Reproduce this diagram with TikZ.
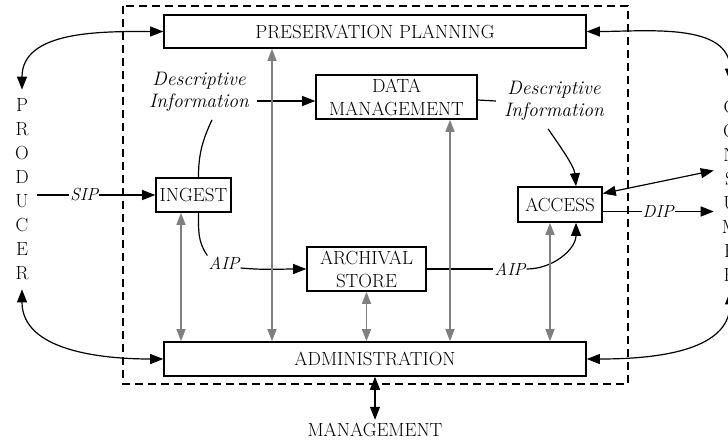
\documentclass[tikz,border=0pt]{standalone}
\usetikzlibrary{arrows.meta,positioning}

\tikzset{
    box/.style={draw, line width=1.6pt, inner sep=0pt, align=center},
    lbl/.style={fill=white, inner sep=1pt, font=\fontsize{17.5}{21}\selectfont\itshape},
    desc/.style={align=center, inner sep=8pt, font=\fontsize{19.5}{22}\selectfont\itshape},
    letters/.style={align=center, inner xsep=8pt, inner ysep=9pt, font=\fontsize{19}{24}\selectfont},
    line/.style={line width=1.2pt},
    arr/.style={line, -{Triangle[length=13pt,width=10pt]}},
    dbl/.style={line, {Triangle[length=13pt,width=10pt]}-{Triangle[length=13pt,width=10pt]}},
    gdbl/.style={line width=1.4pt, black!50, {Triangle[length=12pt,width=9pt]}-{Triangle[length=12pt,width=9pt]}}
}

\begin{document}
\begin{tikzpicture}[x=1pt, y=-1pt, font=\fontsize{19}{23}\selectfont]
    \useasboundingbox (0,0) rectangle (728,447);
    \draw[line width=1.4pt, dash pattern=on 8pt off 5pt] (123,6) rectangle (628,384);
    \node[box, minimum width=422pt, minimum height=33pt] (pp) at (375,31.5) {PRESERVATION PLANNING};
    \node[box, minimum width=422pt, minimum height=34pt] (admin) at (375,359) {ADMINISTRATION};
    \node[box, minimum width=161pt, minimum height=44pt] (dm) at (396.5,97) {DATA\\MANAGEMENT};
    \node[box, minimum width=119pt, minimum height=44pt] (store) at (366.5,269) {ARCHIVAL\\STORE};
    \node[box, minimum width=75pt, minimum height=34pt] (ingest) at (193.5,195) {INGEST};
    \node[box, minimum width=84pt, minimum height=35pt] (access) at (560,204.5) {ACCESS};
    \node[letters] (producer) at (22,189.5) {P\\R\\O\\D\\U\\C\\E\\R};
    \node[letters] (consumer) at (730,191.5) {C\\O\\N\\S\\U\\M\\E\\R};
    \node[below=43pt of admin] (mgmt) {MANAGEMENT};
    \node[desc] (descin) at (199,92) {Descriptive\\Information};
    \node[desc] (descout) at (554,101) {Descriptive\\Information};
    \node[lbl] (aipin) at (224,263) {AIP};
    \node[lbl] (aipout) at (510,269) {AIP};

    \draw[dbl] (producer.north) to[out=90, in=180] (pp.west);
    \draw[dbl] (producer.south) to[out=-90, in=180] (admin.west);
    \draw[dbl] (pp.east) to[out=0, in=90] ([yshift=10pt]consumer.north);
    \draw[dbl] (admin.east) to[out=0, in=-90] (consumer.south);
    \draw[arr] (ingest.west -| producer.east) -- node[lbl, pos=0.4] (sip) {SIP} (ingest.west);
    \draw[arr] ([yshift=-7pt]access.east) coordinate (d) -- node[lbl] (dip) {DIP} (d -| consumer.west);
    \draw[dbl] ([yshift=11pt]access.east) -- ([yshift=21pt]consumer.west);
    \draw[dbl] (admin.south) -- (mgmt.north);

    \draw[line] ([xshift=5pt]ingest.north) to[out=90, in=-115] ([xshift=13pt]descin.south);
    \draw[arr] ([yshift=-4pt]dm.west -| descin.east) -- ([yshift=-4pt]dm.west);
    \draw[line] ([yshift=-3pt]dm.east) -- (descout.west);
    \draw[arr] ([xshift=-6pt]descout.south) to[out=-55, in=95, looseness=0.8] ([xshift=16pt]access.north);
    \draw[line] ([xshift=5pt]ingest.south) to[out=-90, in=125] (aipin.north west);
    \draw[arr] ([yshift=-5pt]aipin.east) to[out=-5, in=180] (store.west);
    \draw[line] (store.east) -- (aipout.west);
    \draw[arr] (aipout.east) to[out=0, in=-90] ([xshift=16pt]access.south);

    \draw[gdbl] ([xshift=-12.5pt]ingest.south) -- ([xshift=-12.5pt]ingest.south |- admin.north);
    \draw[gdbl] ([xshift=-103pt]pp.south) -- ([xshift=-103pt]admin.north);
    \draw[gdbl] (store.south) -- (store.south |- admin.north);
    \draw[gdbl] ([xshift=53.5pt]dm.south) -- ([xshift=53.5pt]dm.south |- admin.north);
    \draw[gdbl] ([xshift=-10pt]access.south) -- ([xshift=-10pt]access.south |- admin.north);
\end{tikzpicture}
\end{document}
